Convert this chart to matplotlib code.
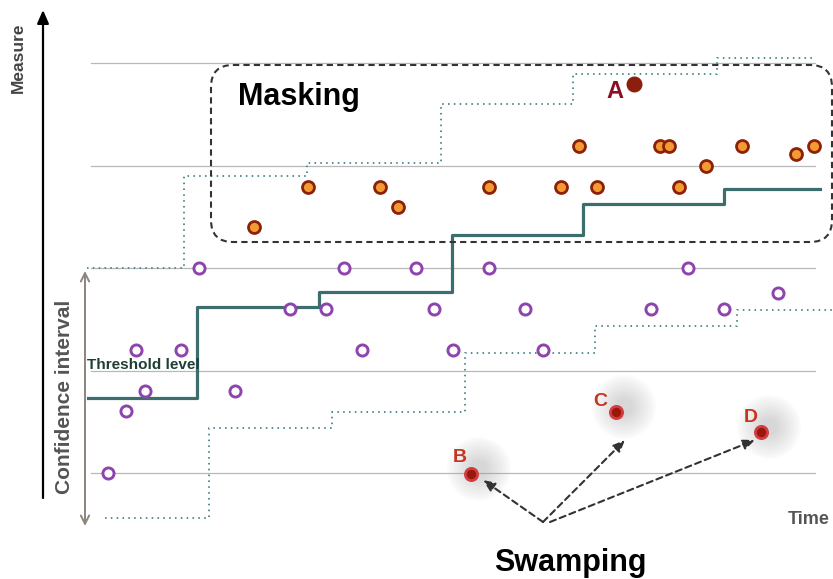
import matplotlib
matplotlib.use("Agg")
import matplotlib.pyplot as plt
from matplotlib.patches import FancyBboxPatch, Circle

plt.rcParams["font.family"] = ["Liberation Sans", "DejaVu Sans"]

# canvas is laid out in pixel units (x right, y down)
W, H = 833, 579

grid_y = [63, 166, 268, 371, 473]

threshold_x = [88, 197, 319, 452, 583, 724, 820]
threshold_y = [398, 307, 292, 235, 204, 189, 189]

upper_x = [87, 184, 307, 441, 573, 717, 812]
upper_y = [268, 176, 163, 104, 74, 58, 58]

lower_x = [105, 209, 332, 465, 595, 737, 833]
lower_y = [518, 428, 412, 353, 326, 310, 310]

normal_x = [108, 126, 145, 136, 181, 199, 235, 290, 326, 344, 362, 416, 434,
            453, 489, 525, 543, 651, 688, 724, 778]
normal_y = [473, 411, 391, 350, 350, 268, 391, 309, 309, 268, 350, 268, 309,
            350, 268, 309, 350, 309, 268, 309, 293]

masked_x = [254, 308, 380, 398, 489, 561, 579, 597, 660, 669, 679, 706, 742, 796, 814]
masked_y = [227, 187, 187, 207, 187, 187, 146, 187, 146, 146, 187, 166, 146, 154, 146]

outlier_a = (634, 84)
swamp_labels = ["B", "C", "D"]
swamp_x = [471, 616, 761]
swamp_y = [474, 412, 432]
swamp_label_x = [460, 600, 751]
swamp_label_y = [458, 401, 417]

TEAL = "#3d6e6e"
DOT_TEAL = "#4f8e90"
PURPLE = "#8e44ad"

fig = plt.figure(figsize=(W / 100, H / 100), dpi=100)
ax = fig.add_axes([0, 0, 1, 1])
ax.set_xlim(0, W)
ax.set_ylim(H, 0)
ax.axis("off")

# grid lines
for gy in grid_y:
    ax.plot([91, 815], [gy, gy], color="#b8b8b8", lw=0.9, zorder=1)

# bounds and threshold
ax.plot(upper_x, upper_y, drawstyle="steps-post", color=DOT_TEAL, lw=1.4,
        linestyle=(0, (0.8, 2.2)), zorder=2)
ax.plot(lower_x, lower_y, drawstyle="steps-post", color=DOT_TEAL, lw=1.4,
        linestyle=(0, (0.8, 2.2)), zorder=2)
ax.plot(threshold_x, threshold_y, drawstyle="steps-post", color=TEAL, lw=2.3, zorder=3)

# axes with arrows
ax.annotate("", xy=(43, 10), xytext=(43, 498),
            arrowprops=dict(arrowstyle="-|>,head_length=0.8,head_width=0.35",
                            color="black", lw=1.6, shrinkA=0, shrinkB=0))
ax.annotate("", xy=(836, 497), xytext=(42, 497),
            arrowprops=dict(arrowstyle="-|>,head_length=0.8,head_width=0.35",
                            color="black", lw=1.6, shrinkA=0, shrinkB=0))
ax.text(18, 58, "Measure", rotation=90, ha="center", va="center",
        fontsize=12.5, fontweight="bold", color="#444444")
ax.text(809, 519, "Time", ha="center", va="center",
        fontsize=13, fontweight="bold", color="#555555")

# confidence interval arrow
ax.annotate("", xy=(85, 271), xytext=(85, 526),
            arrowprops=dict(arrowstyle="<->,head_length=0.6,head_width=0.3",
                            color="#8c857b", lw=1.4, shrinkA=0, shrinkB=0))
ax.text(65, 397, "Confidence interval", rotation=90, ha="center", va="center",
        fontsize=15, fontweight="bold", color="#555555")
ax.text(87, 365, "Threshold level", ha="left", va="center",
        fontsize=11, fontweight="bold", color="#1d3d35", zorder=5)

# masking box
box = FancyBboxPatch((211, 65), 621, 177, boxstyle="round,pad=0,rounding_size=22",
                     fill=False, edgecolor="#333333", lw=1.5,
                     linestyle=(0, (3, 2)), zorder=4)
ax.add_patch(box)
ax.text(238, 97, "Masking", ha="left", va="center",
        fontsize=22, fontweight="bold", color="black")

# points
ax.plot(normal_x, normal_y, "o", ms=8, mfc="white", mec=PURPLE, mew=2.1, zorder=6)
ax.plot(masked_x, masked_y, "o", ms=8.6, mfc="#f39a33", mec="#8b2108", mew=2.0, zorder=6)
ax.plot(*outlier_a, "o", ms=10.5, color="#8b1f0e", zorder=6)
ax.text(615, 92, "A", ha="center", va="center", fontsize=17,
        fontweight="bold", color="#8b1025")

# swamped points with soft glow
for sx, sy in zip(swamp_x, swamp_y):
    for r in range(32, 6, -2):
        ax.add_patch(Circle((sx + 8, sy - 5), r, color="#9a9a9a", alpha=0.03,
                            lw=0, zorder=2))
ax.plot(swamp_x, swamp_y, "o", ms=8.8, mfc="#9b170c", mec="#d23d42", mew=2.0, zorder=7)
for lab, lx, ly in zip(swamp_labels, swamp_label_x, swamp_label_y):
    ax.text(lx, ly, lab, ha="center", va="center", fontsize=14,
            fontweight="bold", color="#c7341f", zorder=7)

# swamping arrows
starts = [(543, 522), (543, 522), (550, 522)]
ends = [(483, 480), (625, 440), (755, 440)]
for (x0, y0), (x1, y1) in zip(starts, ends):
    ax.annotate("", xy=(x1, y1), xytext=(x0, y0),
                arrowprops=dict(arrowstyle="-|>,head_length=0.7,head_width=0.3",
                                color="#333333", lw=1.5, linestyle=(0, (3, 2)),
                                shrinkA=0, shrinkB=0), zorder=5)
ax.text(570, 563, "Swamping", ha="center", va="center",
        fontsize=22, fontweight="bold", color="black")

fig.savefig("out.png", dpi=100)
